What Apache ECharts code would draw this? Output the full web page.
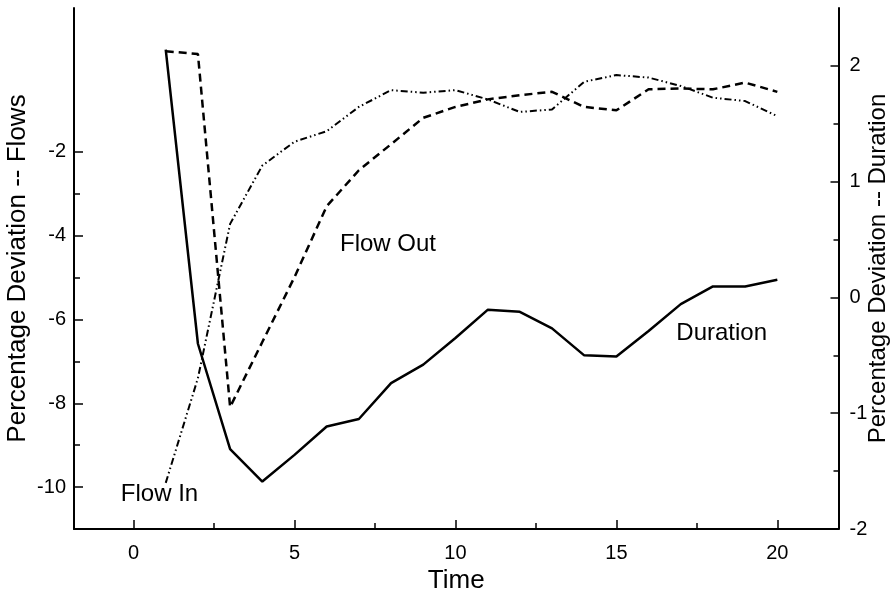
<!DOCTYPE html>
<html>
<head>
<meta charset="utf-8">
<script src="https://cdn.jsdelivr.net/npm/echarts@6/dist/echarts.min.js"></script>
<style>
html,body{margin:0;padding:0;background:#fff;}
#chart{width:893px;height:596px;}
</style>
</head>
<body>
<div id="chart"></div>
<script>
// ---- data ----
var time = [1,2,3,4,5,6,7,8,9,10,11,12,13,14,15,16,17,18,19,20];
var flowIn = [-9.90,-7.40,-3.72,-2.33,-1.76,-1.51,-0.93,-0.53,-0.59,-0.53,-0.75,-1.05,-0.99,-0.33,-0.17,-0.23,-0.43,-0.71,-0.79,-1.15];
var flowOut = [0.40,0.33,-8.09,-6.54,-4.99,-3.30,-2.44,-1.82,-1.19,-0.93,-0.75,-0.65,-0.57,-0.93,-1.01,-0.51,-0.49,-0.51,-0.35,-0.57];
var duration = [2.14,-0.40,-1.31,-1.59,-1.36,-1.115,-1.05,-0.74,-0.58,-0.35,-0.107,-0.124,-0.267,-0.50,-0.51,-0.29,-0.058,0.095,0.095,0.152];

var xTicks = [0,5,10,15,20];
var xMinorTicks = [2.5,7.5,12.5,17.5];
var leftTicks = [-10,-8,-6,-4,-2];
var leftMinorTicks = [-9,-7,-5,-3];
var rightTicks = [-2,-1,0,1,2];
var rightMinorTicks = [-1.5,-0.5,0.5,1.5];

var labels = ['Flow In','Flow Out','Duration'];

function pairs(ys){ return time.map(function(t,i){ return [t, ys[i]]; }); }

var FONT = '"Liberation Sans", Arial, Helvetica, sans-serif';
var BLACK = '#000';

var chart = echarts.init(document.getElementById('chart'), null, {renderer:'canvas'});

var X_MIN = -1.85, X_MAX = 21.9;
var L_MIN = -11, L_MAX = 1.43;
var R_MIN = -2, R_MAX = 2.5;

function hidden(){ return {show:false}; }
function noLine(){ return {show:false, onZero:false}; }
function line(){ return {show:true, onZero:false, lineStyle:{color:BLACK, width:2}}; }

var option = {
  backgroundColor: '#fff',
  animation: false,
  textStyle: {fontFamily: FONT, color: BLACK},
  grid: {left: 74, right: 54.5, top: 8, bottom: 67, containLabel: false, outerBoundsMode: 'none'},
  xAxis: [
    {
      type: 'value', min: X_MIN, max: X_MAX, position: 'bottom',
      name: 'Time', nameLocation: 'middle', nameGap: 39, nameMoveOverlap: false,
      nameTextStyle: {fontSize: 26, color: BLACK, fontFamily: FONT},
      axisLine: line(),
      axisTick: {show: true, inside: true, length: 9, customValues: xTicks, lineStyle: {color: BLACK, width: 1.5}},
      axisLabel: {show: true, customValues: xTicks, margin: 14, fontSize: 20, color: BLACK, fontFamily: FONT},
      splitLine: hidden()
    },
    {
      type: 'value', min: X_MIN, max: X_MAX, position: 'bottom',
      axisLine: noLine(),
      axisTick: {show: true, inside: true, length: 6, customValues: xMinorTicks, lineStyle: {color: BLACK, width: 1.5}},
      axisLabel: hidden(), splitLine: hidden()
    }
  ],
  yAxis: [
    {
      type: 'value', min: L_MIN, max: L_MAX, position: 'left',
      name: 'Percentage Deviation -- Flows', nameLocation: 'middle', nameRotate: 90, nameGap: 43, nameMoveOverlap: false,
      nameTextStyle: {fontSize: 26, color: BLACK, fontFamily: FONT},
      axisLine: line(),
      axisTick: {show: true, inside: true, length: 9, customValues: leftTicks, lineStyle: {color: BLACK, width: 1.5}},
      axisLabel: {show: true, customValues: leftTicks, margin: 8, fontSize: 20, color: BLACK, fontFamily: FONT},
      splitLine: hidden()
    },
    {
      type: 'value', min: R_MIN, max: R_MAX, position: 'right',
      name: 'Percentage Deviation -- Duration', nameLocation: 'middle', nameRotate: 90, nameGap: 28, nameMoveOverlap: false,
      nameTextStyle: {fontSize: 24, color: BLACK, fontFamily: FONT},
      axisLine: line(),
      axisTick: {show: true, inside: true, length: 8, customValues: rightTicks, lineStyle: {color: BLACK, width: 1.5}},
      axisLabel: {show: true, customValues: rightTicks, margin: 11, fontSize: 20, color: BLACK, fontFamily: FONT},
      splitLine: hidden()
    },
    {
      type: 'value', min: L_MIN, max: L_MAX, position: 'left',
      axisLine: noLine(),
      axisTick: {show: true, inside: true, length: 6, customValues: leftMinorTicks, lineStyle: {color: BLACK, width: 1.5}},
      axisLabel: hidden(), splitLine: hidden()
    },
    {
      type: 'value', min: R_MIN, max: R_MAX, position: 'right',
      axisLine: noLine(),
      axisTick: {show: true, inside: true, length: 5, customValues: rightMinorTicks, lineStyle: {color: BLACK, width: 1.5}},
      axisLabel: hidden(), splitLine: hidden()
    }
  ],
  series: [
    {
      name: labels[0], type: 'line', xAxisIndex: 0, yAxisIndex: 0,
      data: pairs(flowIn), showSymbol: false, symbol: 'none',
      lineStyle: {color: BLACK, width: 2, type: [7,3,1.5,3,1.5,3]}
    },
    {
      name: labels[1], type: 'line', xAxisIndex: 0, yAxisIndex: 0,
      data: pairs(flowOut), showSymbol: false, symbol: 'none',
      lineStyle: {color: BLACK, width: 2.5, type: [8,5]}
    },
    {
      name: labels[2], type: 'line', xAxisIndex: 0, yAxisIndex: 1,
      data: pairs(duration), showSymbol: false, symbol: 'none',
      lineStyle: {color: BLACK, width: 2.5, type: 'solid'}
    }
  ],
  graphic: [
    {type: 'text', x: 159.5, y: 494, style: {text: labels[0], font: '24px ' + FONT, fill: BLACK, align: 'center', verticalAlign: 'middle'}},
    {type: 'text', x: 388, y: 244, style: {text: labels[1], font: '24px ' + FONT, fill: BLACK, align: 'center', verticalAlign: 'middle'}},
    {type: 'text', x: 721.7, y: 333, style: {text: labels[2], font: '24px ' + FONT, fill: BLACK, align: 'center', verticalAlign: 'middle'}}
  ]
};
chart.setOption(option);
</script>
</body>
</html>
